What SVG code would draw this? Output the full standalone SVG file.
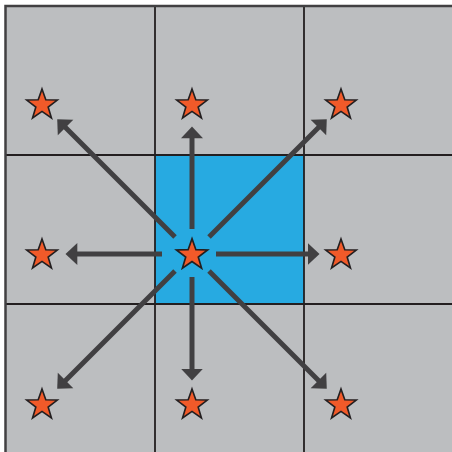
<svg xmlns="http://www.w3.org/2000/svg" width="452" height="452" viewBox="0 0 452 452">
<style>
.cell{fill:#BCBEC0}
.grid{stroke:#231F20;stroke-width:1.8;fill:none}
.arrow{stroke:#414042;stroke-width:5;fill:none;marker-end:url(#head)}
.star{fill:#F15A29;stroke:#231F20;stroke-width:1.4;stroke-linejoin:miter}
</style>
<defs>
<marker id="head" markerUnits="userSpaceOnUse" viewBox="-1 -12 13 24" refX="0" refY="0" markerWidth="13" markerHeight="24" orient="auto">
<path d="M-0.8,-11 L11,0 L-0.8,11 z" fill="#414042"/>
</marker>
<path id="st" d="M0,-14 L3.3,-4.55 L13.31,-4.33 L5.35,1.74 L8.23,11.33 L0,5.62 L-8.23,11.33 L-5.35,1.74 L-13.31,-4.33 L-3.3,-4.55 z"/>
</defs>
<g id="grid">
<rect class="cell" x="5.5" y="5.5" width="450" height="450"/>
<rect x="155" y="155" width="149" height="149" fill="#27AAE1"/>
<line class="grid" x1="155" y1="5" x2="155" y2="452"/>
<line class="grid" x1="304" y1="5" x2="304" y2="452"/>
<line class="grid" x1="5" y1="155" x2="452" y2="155"/>
<line class="grid" x1="5" y1="304" x2="452" y2="304"/>
<path d="M5.5,452 L5.5,6 L452,6" stroke="#414042" stroke-width="2.5" fill="none"/>
</g>
<g id="connectors">
<line class="arrow" x1="192" y1="229" x2="192" y2="137.5"/>
<line class="arrow" x1="192" y1="277" x2="192" y2="369.5"/>
<line class="arrow" x1="162" y1="254" x2="76.5" y2="254"/>
<line class="arrow" x1="216" y1="254" x2="308.5" y2="254"/>
<line class="arrow" x1="209" y1="237" x2="319" y2="127"/>
<line class="arrow" x1="175" y1="237" x2="65" y2="127"/>
<line class="arrow" x1="209" y1="271" x2="319" y2="381"/>
<line class="arrow" x1="175" y1="271" x2="65" y2="381"/>
</g>
<g id="star-c"><use href="#st" class="star" transform="translate(192,255) scale(1.17)"/></g>
<g id="star-nw"><use href="#st" class="star" transform="translate(42,105) scale(1.15)"/></g>
<g id="star-n"><use href="#st" class="star" transform="translate(192,105) scale(1.15)"/></g>
<g id="star-ne"><use href="#st" class="star" transform="translate(341,105) scale(1.15)"/></g>
<g id="star-w"><use href="#st" class="star" transform="translate(42,255) scale(1.15)"/></g>
<g id="star-e"><use href="#st" class="star" transform="translate(341,255) scale(1.15)"/></g>
<g id="star-sw"><use href="#st" class="star" transform="translate(42,405) scale(1.15)"/></g>
<g id="star-s"><use href="#st" class="star" transform="translate(192,405) scale(1.15)"/></g>
<g id="star-se"><use href="#st" class="star" transform="translate(341,405) scale(1.15)"/></g>
</svg>
